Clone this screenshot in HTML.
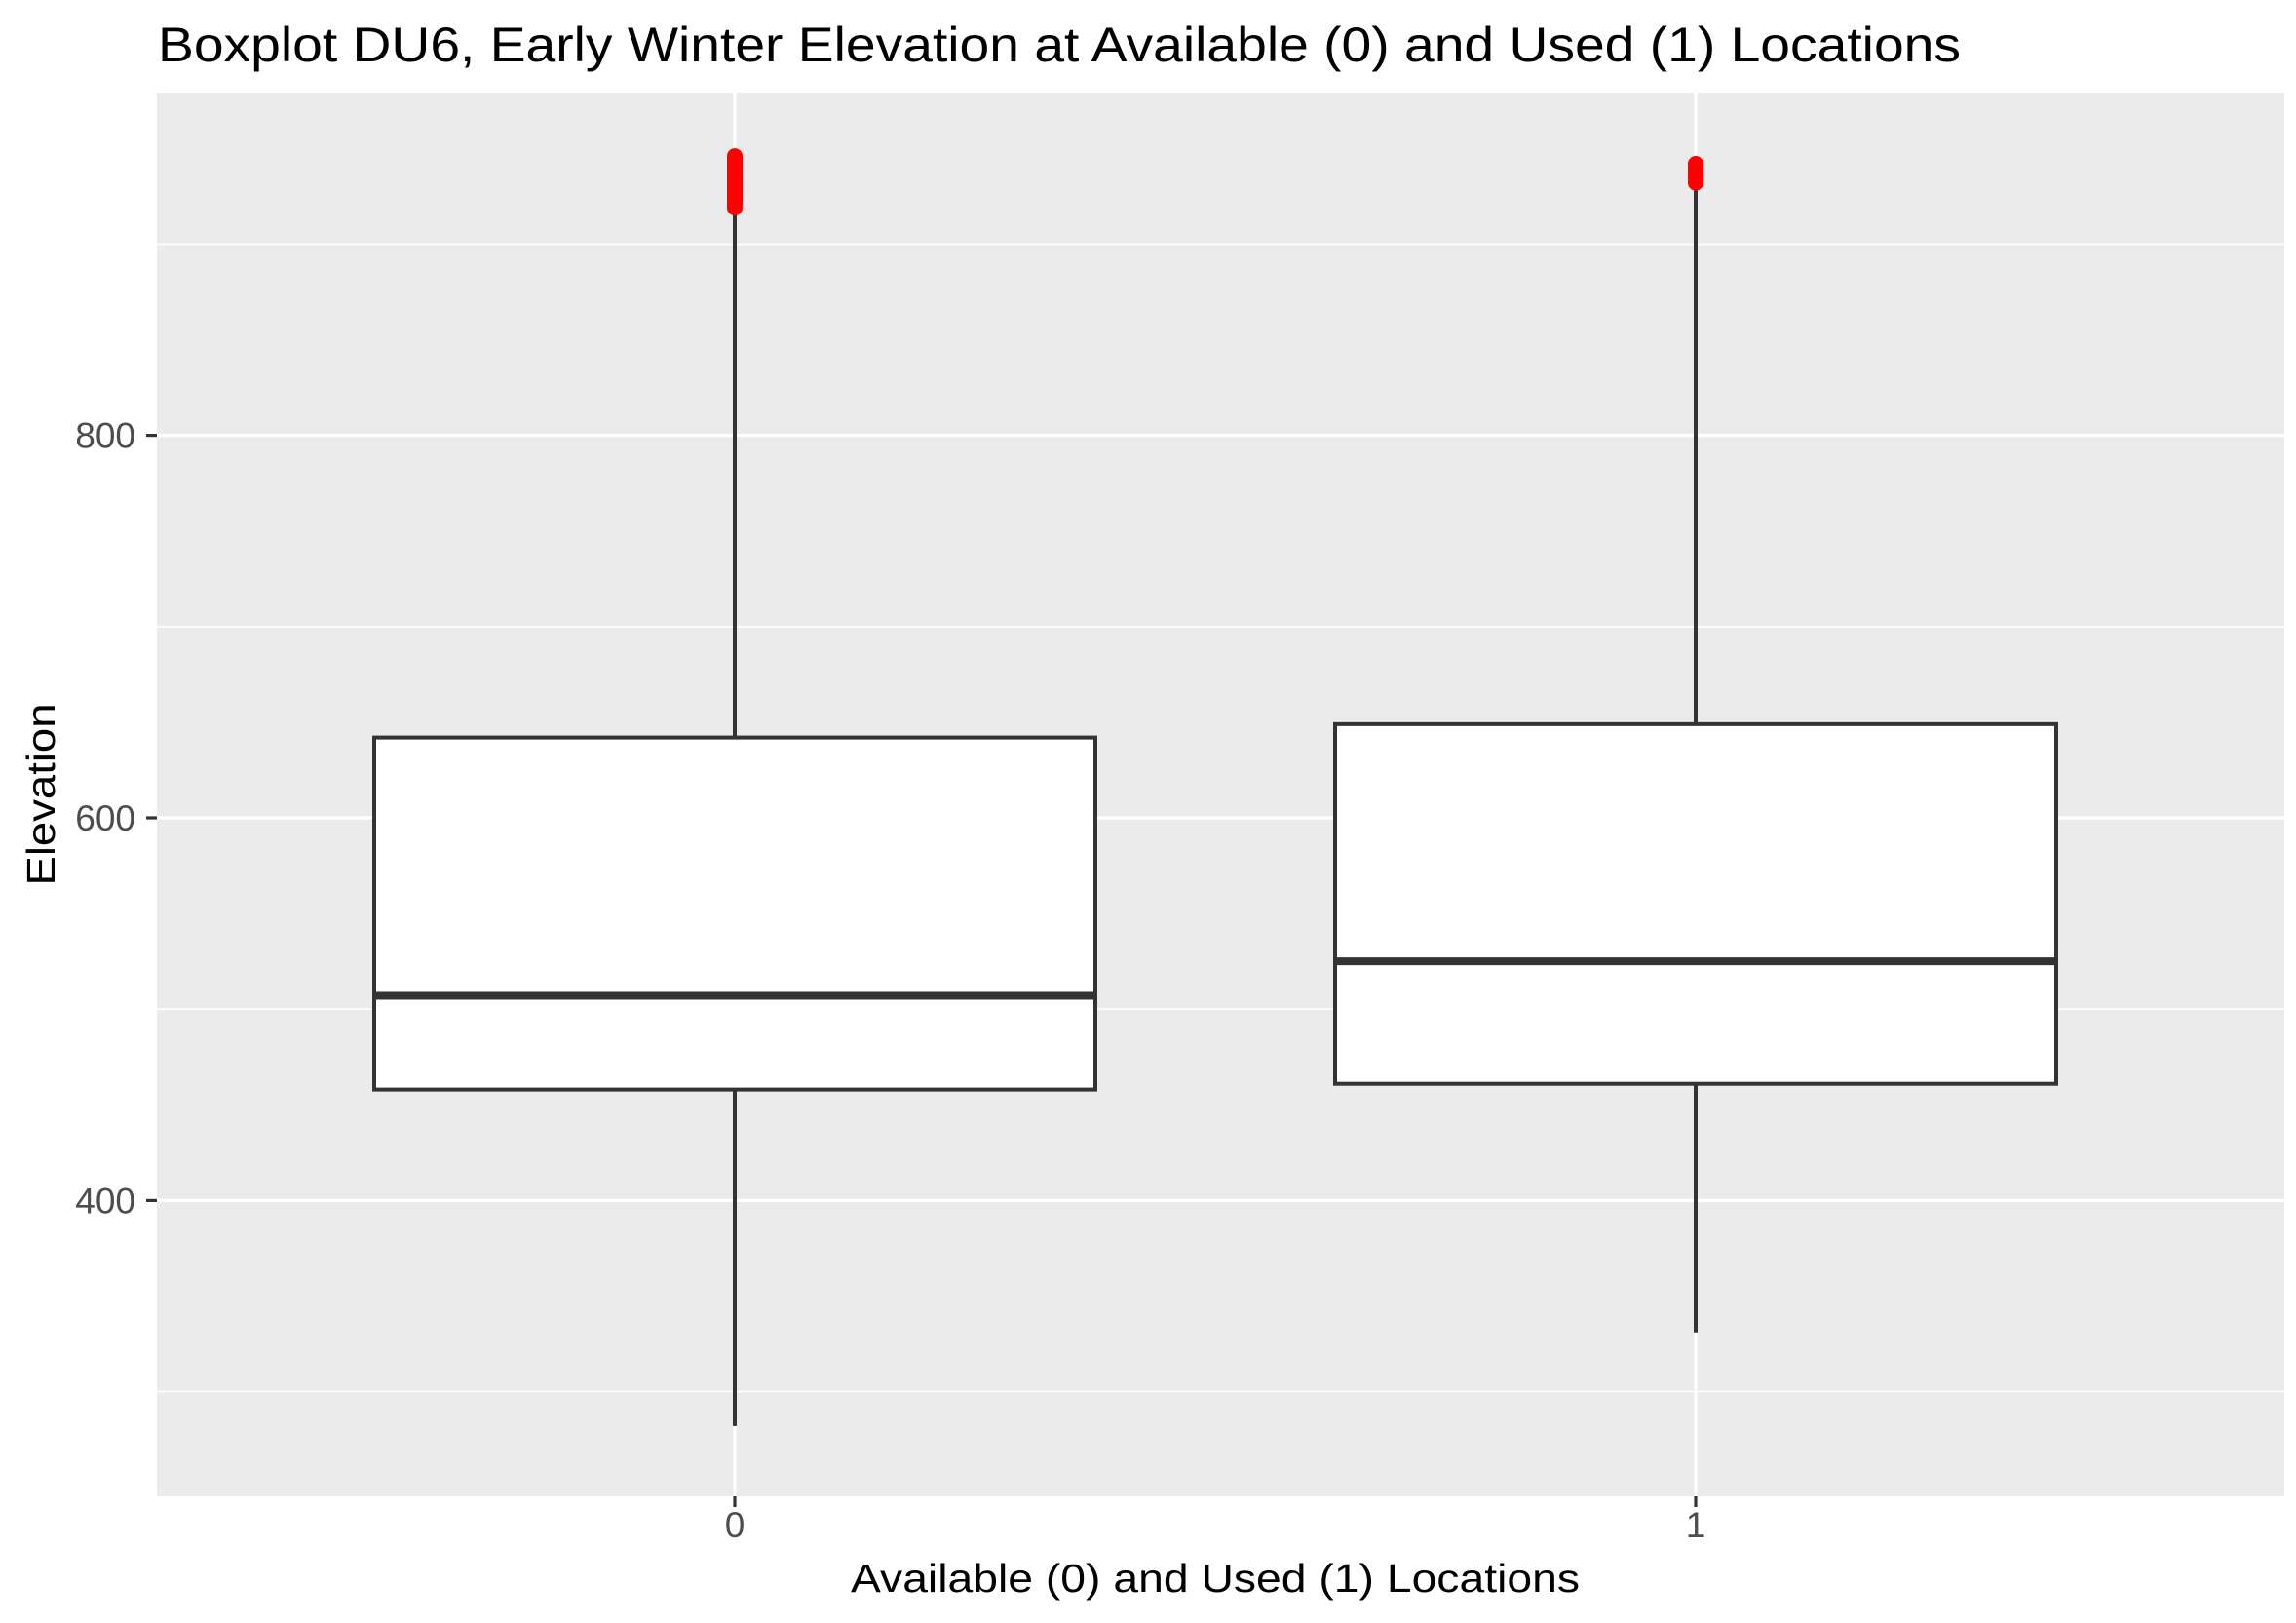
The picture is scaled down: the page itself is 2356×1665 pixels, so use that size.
<!DOCTYPE html>
<html><head><meta charset="utf-8"><style>
html,body{margin:0;padding:0;background:#fff;}
svg{display:block;}
</style></head><body>
<svg id="chart" width="2356" height="1665" viewBox="0 0 2356 1665" xmlns="http://www.w3.org/2000/svg" font-family="Liberation Sans, Arial, sans-serif">
<rect x="0" y="0" width="2356" height="1665" fill="#fff"/>
<text x="162" y="63" font-size="50" fill="#000" textLength="1850" lengthAdjust="spacingAndGlyphs">Boxplot DU6, Early Winter Elevation at Available (0) and Used (1) Locations</text>
<rect x="161" y="95" width="2183" height="1440" fill="#ebebeb"/>
<g id="grid"></g>
<g id="boxes"></g>
<g id="axes"></g>
<text x="1247" y="1633" font-size="41" fill="#000" text-anchor="middle" textLength="748" lengthAdjust="spacingAndGlyphs">Available (0) and Used (1) Locations</text>
<text x="0" y="0" font-size="41" fill="#000" text-anchor="middle" textLength="187" lengthAdjust="spacingAndGlyphs" transform="translate(56,815) rotate(-90)">Elevation</text>
</svg>
<script>
const categories = ["0", "1"];
const lowerWhisker = [282, 331];
const q1Values = [458, 461];
const medianValues = [507, 525];
const q3Values = [642, 649];
const upperWhisker = [918, 930];
const outliers0 = [919, 920, 921, 922, 923, 924, 925, 926, 927, 928, 929, 930, 931, 932, 933, 934, 935, 936, 937, 938, 939, 940, 941, 942, 943, 944, 945, 946];
const outliers1 = [932, 933, 934, 935, 936, 937, 938, 939, 940, 941, 942];
const yTicks = [400, 600, 800];
const yTickLabels = ["400", "600", "800"];
const yMinorTicks = [300, 500, 700, 900];

const NS = "http://www.w3.org/2000/svg";
const panel = {left:161, right:2344, top:95, bottom:1535};
function y(v){ return 839 + (600 - v) * 1.962; }
function x(i){ return 754 + i * 986; }
const halfW = 370;
function mk(tag, attrs, parent){
  const e = document.createElementNS(NS, tag);
  for (const k in attrs) e.setAttribute(k, attrs[k]);
  parent.appendChild(e);
  return e;
}
const grid = document.getElementById('grid');
const boxes = document.getElementById('boxes');
const axes = document.getElementById('axes');

yMinorTicks.forEach(v => {
  const l = mk('line', {x1:panel.left, x2:panel.right, y1:y(v), y2:y(v), stroke:'#fff', 'stroke-width':1.6}, grid);
  
  
});
yTicks.forEach((v, i) => {
  const l = mk('line', {x1:panel.left, x2:panel.right, y1:y(v), y2:y(v), stroke:'#fff', 'stroke-width':3.2}, grid);
  
  
  const t = mk('line', {x1:150, x2:161, y1:y(v), y2:y(v), stroke:'#333', 'stroke-width':3.2}, axes);
  
  
  const tx = mk('text', {x:139, y:y(v) + 13, 'font-size':37, fill:'#4d4d4d', 'text-anchor':'end'}, axes);
  tx.textContent = yTickLabels[i];
  
  
});
categories.forEach((c, i) => {
  const l = mk('line', {x1:x(i), x2:x(i), y1:panel.top, y2:panel.bottom, stroke:'#fff', 'stroke-width':3.2}, grid);
  
  
  const t = mk('line', {x1:x(i), x2:x(i), y1:1535, y2:1546, stroke:'#333', 'stroke-width':3.2}, axes);
  
  
  const tx = mk('text', {x:x(i), y:1577, 'font-size':37, fill:'#4d4d4d', 'text-anchor':'middle'}, axes);
  tx.textContent = c;
  
  
});
const outs = [outliers0, outliers1];
categories.forEach((c, i) => {
  const g = mk('g', {}, boxes);
  
  
  const w1 = mk('line', {x1:x(i), x2:x(i), y1:y(upperWhisker[i]), y2:y(q3Values[i]), stroke:'#333', 'stroke-width':4}, g);
  
  
  const w2 = mk('line', {x1:x(i), x2:x(i), y1:y(q1Values[i]), y2:y(lowerWhisker[i]), stroke:'#333', 'stroke-width':4}, g);
  
  
  const r = mk('rect', {x:x(i) - halfW, y:y(q3Values[i]), width:2 * halfW, height:y(q1Values[i]) - y(q3Values[i]), fill:'#fff', stroke:'#333', 'stroke-width':4}, g);
  
  
  const m = mk('line', {x1:x(i) - halfW, x2:x(i) + halfW, y1:y(medianValues[i]), y2:y(medianValues[i]), stroke:'#333', 'stroke-width':8}, g);
  
  
  outs[i].forEach(v => {
    const p = mk('circle', {cx:x(i), cy:y(v), r:8, fill:'#ff0000'}, g);
    
    
  });
});
</script>
</body></html>
